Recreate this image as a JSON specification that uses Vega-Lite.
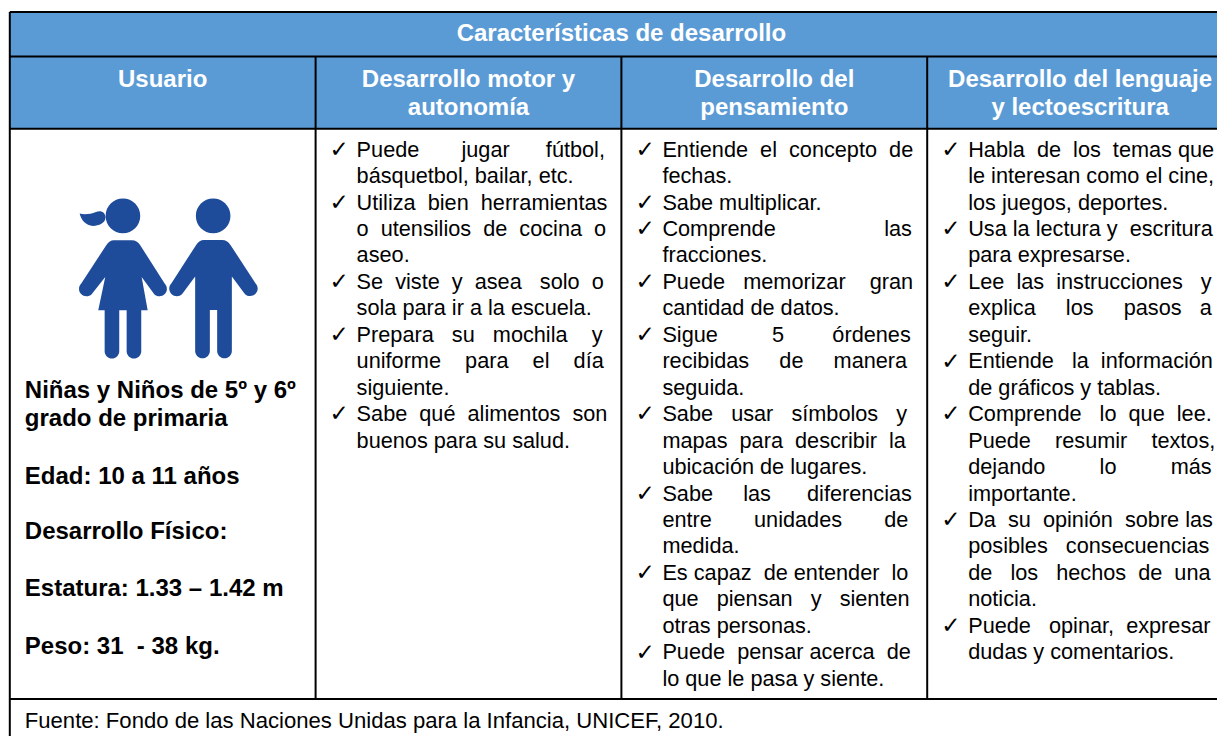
{
"$schema":"https://vega.github.io/schema/vega-lite/v6.json",
"width":1217,"height":736,"padding":0,
"autosize":{"type":"fit","contains":"padding"},
"background":"white",
"config":{"view":{"stroke":null}},
"datasets":{
"bandas":[{"col":0,"col2":4,"top":-5.18,"bottom":-0.77}],
"horizontales":[{"col":0,"col2":4,"line":-5.18},{"col":0,"col2":4,"line":-3.5},{"col":0,"col2":4,"line":-0.77},{"col":0,"col2":4,"line":20.79}],
"verticales":[{"col":0,"top":-5.18,"bottom":22.2},{"col":1,"top":-3.5,"bottom":20.79},{"col":2,"top":-3.5,"bottom":20.79},{"col":3,"top":-3.5,"bottom":20.79}],
"cabeceras":[
{"col":2,"line":-4.36,"text":"Características de desarrollo"},
{"col":0.5,"line":-2.62,"text":"Usuario"},
{"col":1.5,"line":-2.62,"text":"Desarrollo motor y"},
{"col":1.5,"line":-1.56,"text":"autonomía"},
{"col":2.5,"line":-2.62,"text":"Desarrollo del"},
{"col":2.5,"line":-1.56,"text":"pensamiento"},
{"col":3.5,"line":-2.62,"text":"Desarrollo del lenguaje"},
{"col":3.5,"line":-1.56,"text":"y lectoescritura"}],
"usuario":[
{"col":0,"line":9.15,"text":"Niñas y Niños de 5º y 6º"},
{"col":0,"line":10.21,"text":"grado de primaria"},
{"col":0,"line":12.41,"text":"Edad: 10 a 11 años"},
{"col":0,"line":14.48,"text":"Desarrollo Físico:"},
{"col":0,"line":16.64,"text":"Estatura: 1.33 – 1.42 m"},
{"col":0,"line":18.83,"text":"Peso: 31\u00a0 - 38 kg."}],
"fuente":[{"col":0,"line":21.62,"text":"Fuente: Fondo de las Naciones Unidas para la Infancia, UNICEF, 2010."}],
"lineas":[
{"col":1,"line":0,"text":"Puede \u00a0\u00a0\u00a0\u00a0\u00a0\u00a0jugar \u00a0\u00a0\u00a0\u00a0\u00a0fútbol,"},
{"col":1,"line":1,"text":"básquetbol, bailar, etc."},
{"col":1,"line":2,"text":"Utiliza \u00a0bien \u00a0herramientas"},
{"col":1,"line":3,"text":"o \u00a0utensilios \u00a0de \u00a0cocina \u00a0o"},
{"col":1,"line":4,"text":"aseo."},
{"col":1,"line":5,"text":"Se \u00a0viste \u00a0y \u00a0asea \u00a0\u00a0solo \u00a0o"},
{"col":1,"line":6,"text":"sola para ir a la escuela."},
{"col":1,"line":7,"text":"Prepara \u00a0\u00a0su \u00a0\u00a0mochila \u00a0\u00a0\u00a0y"},
{"col":1,"line":8,"text":"uniforme \u00a0\u00a0\u00a0para \u00a0\u00a0\u00a0el \u00a0\u00a0\u00a0día"},
{"col":1,"line":9,"text":"siguiente."},
{"col":1,"line":10,"text":"Sabe \u00a0qué \u00a0alimentos \u00a0son"},
{"col":1,"line":11,"text":"buenos para su salud."},
{"col":2,"line":0,"text":"Entiende \u00a0el \u00a0concepto \u00a0de"},
{"col":2,"line":1,"text":"fechas."},
{"col":2,"line":2,"text":"Sabe multiplicar."},
{"col":2,"line":3,"text":"Comprende \u00a0\u00a0\u00a0\u00a0\u00a0\u00a0\u00a0\u00a0\u00a0\u00a0\u00a0\u00a0\u00a0\u00a0\u00a0\u00a0\u00a0las"},
{"col":2,"line":4,"text":"fracciones."},
{"col":2,"line":5,"text":"Puede \u00a0\u00a0memorizar \u00a0\u00a0\u00a0gran"},
{"col":2,"line":6,"text":"cantidad de datos."},
{"col":2,"line":7,"text":"Sigue \u00a0\u00a0\u00a0\u00a0\u00a0\u00a0\u00a0\u00a05 \u00a0\u00a0\u00a0\u00a0\u00a0\u00a0\u00a0órdenes"},
{"col":2,"line":8,"text":"recibidas \u00a0\u00a0\u00a0\u00a0de \u00a0\u00a0\u00a0\u00a0manera"},
{"col":2,"line":9,"text":"seguida."},
{"col":2,"line":10,"text":"Sabe \u00a0\u00a0usar \u00a0\u00a0símbolos \u00a0\u00a0y"},
{"col":2,"line":11,"text":"mapas \u00a0para \u00a0describir \u00a0la"},
{"col":2,"line":12,"text":"ubicación de lugares."},
{"col":2,"line":13,"text":"Sabe \u00a0\u00a0\u00a0\u00a0las \u00a0\u00a0\u00a0\u00a0\u00a0diferencias"},
{"col":2,"line":14,"text":"entre \u00a0\u00a0\u00a0\u00a0\u00a0\u00a0unidades \u00a0\u00a0\u00a0\u00a0\u00a0\u00a0de"},
{"col":2,"line":15,"text":"medida."},
{"col":2,"line":16,"text":"Es capaz \u00a0de entender \u00a0lo"},
{"col":2,"line":17,"text":"que \u00a0\u00a0piensan \u00a0\u00a0y \u00a0\u00a0sienten"},
{"col":2,"line":18,"text":"otras personas."},
{"col":2,"line":19,"text":"Puede \u00a0pensar acerca \u00a0de"},
{"col":2,"line":20,"text":"lo que le pasa y siente."},
{"col":3,"line":0,"text":"Habla \u00a0de \u00a0los \u00a0temas que"},
{"col":3,"line":1,"text":"le interesan como el cine,"},
{"col":3,"line":2,"text":"los juegos, deportes."},
{"col":3,"line":3,"text":"Usa la lectura y \u00a0escritura"},
{"col":3,"line":4,"text":"para expresarse."},
{"col":3,"line":5,"text":"Lee \u00a0las \u00a0instrucciones \u00a0\u00a0y"},
{"col":3,"line":6,"text":"explica \u00a0\u00a0\u00a0\u00a0los \u00a0\u00a0\u00a0\u00a0pasos \u00a0\u00a0a"},
{"col":3,"line":7,"text":"seguir."},
{"col":3,"line":8,"text":"Entiende \u00a0\u00a0la \u00a0información"},
{"col":3,"line":9,"text":"de gráficos y tablas."},
{"col":3,"line":10,"text":"Comprende \u00a0\u00a0lo \u00a0que \u00a0lee."},
{"col":3,"line":11,"text":"Puede \u00a0\u00a0\u00a0resumir \u00a0\u00a0\u00a0textos,"},
{"col":3,"line":12,"text":"dejando \u00a0\u00a0\u00a0\u00a0\u00a0\u00a0\u00a0\u00a0lo \u00a0\u00a0\u00a0\u00a0\u00a0\u00a0\u00a0\u00a0más"},
{"col":3,"line":13,"text":"importante."},
{"col":3,"line":14,"text":"Da \u00a0su \u00a0opinión \u00a0sobre las"},
{"col":3,"line":15,"text":"posibles \u00a0\u00a0consecuencias"},
{"col":3,"line":16,"text":"de \u00a0\u00a0los \u00a0\u00a0hechos \u00a0de \u00a0una"},
{"col":3,"line":17,"text":"noticia."},
{"col":3,"line":18,"text":"Puede \u00a0\u00a0opinar, \u00a0expresar"},
{"col":3,"line":19,"text":"dudas y comentarios."}],
"marcas":[
{"col":1,"line":0},{"col":1,"line":2},{"col":1,"line":5},{"col":1,"line":7},{"col":1,"line":10},
{"col":2,"line":0},{"col":2,"line":2},{"col":2,"line":3},{"col":2,"line":5},{"col":2,"line":7},{"col":2,"line":10},{"col":2,"line":13},{"col":2,"line":16},{"col":2,"line":19},
{"col":3,"line":0},{"col":3,"line":3},{"col":3,"line":5},{"col":3,"line":8},{"col":3,"line":10},{"col":3,"line":14},{"col":3,"line":18}],
"nina":[{"col":0.3700,"line":2.53}],
"nino":[{"col":0.6650,"line":2.53}]
},
"layer":[
{"data":{"name":"bandas"},"mark":{"type":"rect","fill":"#5B9BD5"},
 "encoding":{"x":{"field":"col","type":"quantitative","axis":null,"scale":{"domain":[0,4],"range":[9.8,1233],"nice":false,"zero":false}},"x2":{"field":"col2"},
 "y":{"field":"top","type":"quantitative","axis":null,"scale":{"domain":[-5.633,22.193],"range":[0,736],"nice":false,"zero":false}},"y2":{"field":"bottom"}}},
{"data":{"name":"horizontales"},"mark":{"type":"rule","stroke":"#000","strokeWidth":2},
 "encoding":{"x":{"field":"col","type":"quantitative"},"x2":{"field":"col2"},"y":{"field":"line","type":"quantitative"}}},
{"data":{"name":"verticales"},"mark":{"type":"rule","stroke":"#000","strokeWidth":2},
 "encoding":{"x":{"field":"col","type":"quantitative"},"y":{"field":"top","type":"quantitative"},"y2":{"field":"bottom"}}},
{"data":{"name":"cabeceras"},"mark":{"type":"text","font":"Liberation Sans","fontSize":24,"fontWeight":"bold","fill":"white","align":"center","baseline":"middle"},
 "encoding":{"x":{"field":"col","type":"quantitative"},"y":{"field":"line","type":"quantitative"},"text":{"field":"text"}}},
{"data":{"name":"usuario"},"mark":{"type":"text","font":"Liberation Sans","fontSize":24,"fontWeight":"bold","fill":"#000","align":"left","baseline":"middle","dx":15},
 "encoding":{"x":{"field":"col","type":"quantitative"},"y":{"field":"line","type":"quantitative"},"text":{"field":"text"}}},
{"data":{"name":"fuente"},"mark":{"type":"text","font":"Liberation Sans","fontSize":22.1,"fill":"#000","align":"left","baseline":"middle","dx":15},
 "encoding":{"x":{"field":"col","type":"quantitative"},"y":{"field":"line","type":"quantitative"},"text":{"field":"text"}}},
{"data":{"name":"lineas"},"mark":{"type":"text","font":"Liberation Sans","fontSize":21.7,"fill":"#000","align":"left","baseline":"middle","dx":41,"dy":0.7},
 "encoding":{"x":{"field":"col","type":"quantitative"},"y":{"field":"line","type":"quantitative"},"text":{"field":"text"}}},
{"data":{"name":"marcas"},"mark":{"type":"text","font":"DejaVu Sans","fontSize":23,"fill":"#000","align":"left","baseline":"middle","dx":14,"dy":1},
 "encoding":{"x":{"field":"col","type":"quantitative"},"y":{"field":"line","type":"quantitative"},"text":{"value":"✓"}}},
{"data":{"name":"nina"},"mark":{"type":"point","filled":true,"fill":"#1E4C9A","opacity":1,"size":4,"strokeWidth":0,
 "shape":"M-17.3,0A17.3,17.3,0,1,1,17.3,0A17.3,17.3,0,1,1,-17.3,0ZM-9.3,24.3L9,24.3Q14,24.3,17.3,29.3L41.7,67.7A7.3,7.3,0,0,1,31.3,78.3L18.7,61L24.7,94.3L18.3,94.3L18.3,135.3A7.3,7.3,0,0,1,3.7,135.3L3.7,94.3L-3.7,94.3L-3.7,135.3A7.3,7.3,0,0,1,-18.3,135.3L-18.3,94.3L-24.7,94.3L-17.7,61L-31.3,78.3A7.3,7.3,0,0,1,-41.7,67.7L-16.7,29.3Q-13.3,24.3,-9.3,24.3ZM-43.3,-2.3C-38,-1,-32,-2,-27,-4C-22,-6,-18,-4,-17.5,1C-17,7,-24,10,-30,10C-37,10,-42,4,-43.3,-2.3Z"},
 "encoding":{"x":{"field":"col","type":"quantitative"},"y":{"field":"line","type":"quantitative"}}},
{"data":{"name":"nino"},"mark":{"type":"point","filled":true,"fill":"#1E4C9A","opacity":1,"size":4,"strokeWidth":0,
 "shape":"M-17.3,0A17.3,17.3,0,1,1,17.3,0A17.3,17.3,0,1,1,-17.3,0ZM-9.3,24L9,24Q14,24,17.3,29L42.3,67.3A7.3,7.3,0,0,1,31.7,78L18.7,60.7L18.7,135A7.3,7.3,0,0,1,4,135L4,94L-3.3,94L-3.3,135A7.3,7.3,0,0,1,-18,135L-18,60.7L-31,78A7.3,7.3,0,0,1,-41.7,67.3L-17,29Q-13.7,24,-9.3,24Z"},
 "encoding":{"x":{"field":"col","type":"quantitative"},"y":{"field":"line","type":"quantitative"}}}
]
}
